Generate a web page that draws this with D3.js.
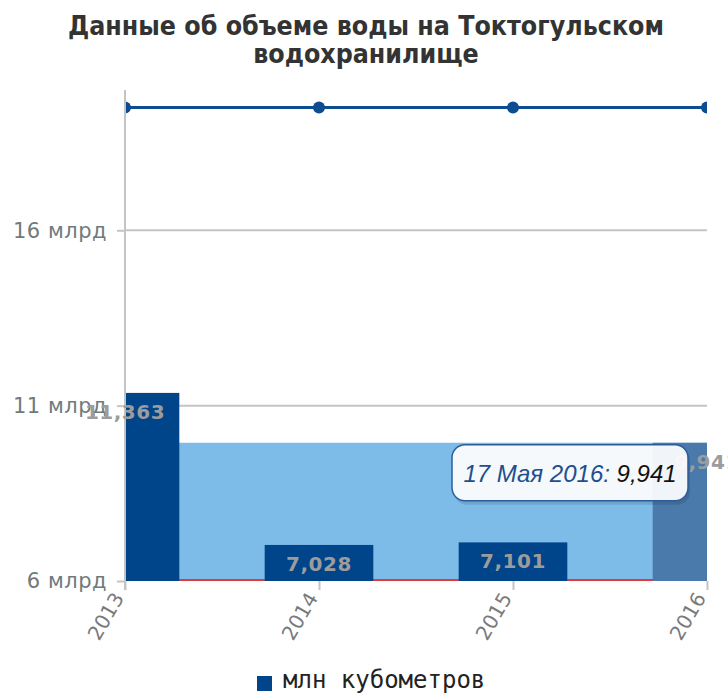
<!DOCTYPE html>
<html>
<head>
<meta charset="utf-8">
<script src="https://cdn.jsdelivr.net/npm/d3@7"></script>
<style>
  body { margin: 0; background: #fff; }
  svg { display: block; }
</style>
</head>
<body>
<div id="chart"></div>
<script>
    'use strict';

    // data (billions of cubic metres)
    var years = [2013, 2014, 2015, 2016],
        volumes = [11.363, 7.028, 7.101, 9.941],
        volumeLabels = ["11,363", "7,028", "7,101", "9,941"],
        capacity = [19.5, 19.5, 19.5, 19.5],
        hoverBand = [9.941, 9.941, 9.941, 9.941],
        minLevel = [6, 6, 6, 6],
        yTicks = [6, 11, 16],
        hoverIndex = 3,
        tooltipDate = "17 Мая 2016: ",
        tooltipValue = "9,941";

    var width = 728, height = 695,
        margin = { top: 90, right: 21, bottom: 114, left: 125 },
        plotW = width - margin.left - margin.right,
        plotH = height - margin.top - margin.bottom,
        colors = { bar: "#00448a", barHover: "#4a7aab", band: "#7dbce9", line: "#0c4c90", red: "#e23a3a", grid: "#c4c4c4", label: "#9c9c9c", axis: "#6f7b7b" };

    var x = d3.scaleLinear().domain([2013, 2016]).range([0, plotW]),
        y = d3.scaleLinear().domain([6, 20]).range([plotH, 0]),
        barW = (x(2014) - x(2013)) * 0.56;

    var svg = d3.select("#chart").append("svg")
        .attr("width", width)
        .attr("height", height);

    // title
    svg.append("text")
        .attr("x", 366).attr("y", 35)
        .attr("text-anchor", "middle")
        .style("font-family", "DejaVu Sans Condensed, DejaVu Sans")
        .style("font-weight", "bold")
        .style("font-size", "26.5px")
        .style("fill", "#333")
        .selectAll("tspan")
        .data(["Данные об объеме воды на Токтогульском", "водохранилище"])
        .enter().append("tspan")
        .attr("x", 366)
        .attr("dy", function (d, i) { return i ? 28 : 0; })
        .text(function (d) { return d; });

    var g = svg.append("g")
        .attr("transform", "translate(" + margin.left + "," + margin.top + ")");

    g.append("clipPath").attr("id", "plotClip")
        .append("rect")
        .attr("x", 0).attr("y", -10)
        .attr("width", plotW).attr("height", plotH + 10);

    // gridlines + y labels
    var yAxis = d3.axisLeft(y)
        .tickValues(yTicks)
        .tickSize(8)
        .tickPadding(10)
        .tickFormat(function (d) { return d + " млрд"; });

    var yG = g.append("g").call(yAxis);
    yG.select(".domain").remove();
    yG.selectAll("line").attr("stroke", colors.grid).attr("stroke-width", 2);
    yG.selectAll("text")
        .style("font-family", "DejaVu Sans")
        .style("font-size", "21px")
        .style("letter-spacing", "0.5px")
        .style("fill", colors.axis);

    g.append("g").selectAll("line")
        .data(yTicks.filter(function (d) { return d > 6; }))
        .enter().append("line")
        .attr("x1", 0).attr("x2", plotW)
        .attr("y1", function (d) { return y(d); })
        .attr("y2", function (d) { return y(d); })
        .attr("stroke", colors.grid)
        .attr("stroke-width", 2);

    var plot = g.append("g").attr("clip-path", "url(#plotClip)");

    // light band behind the columns
    plot.append("path")
        .datum(hoverBand)
        .attr("fill", colors.band)
        .attr("d", d3.area()
            .x(function (d, i) { return x(years[i]); })
            .y0(y(6))
            .y1(function (d) { return y(d); }));

    // red minimum line
    plot.append("path")
        .datum(minLevel)
        .attr("fill", "none")
        .attr("stroke", colors.red)
        .attr("stroke-width", 2)
        .attr("d", d3.line()
            .x(function (d, i) { return x(years[i]); })
            .y(function (d) { return y(d) - 1; }));

    // columns
    plot.selectAll(".bar")
        .data(volumes)
        .enter().append("rect")
        .attr("class", "bar")
        .attr("x", function (d, i) { return x(years[i]) - barW / 2; })
        .attr("y", function (d) { return y(d); })
        .attr("width", barW)
        .attr("height", function (d) { return y(6) - y(d); })
        .style("fill", function (d, i) { return i === hoverIndex ? colors.barHover : colors.bar; });

    // capacity line
    plot.append("path")
        .datum(capacity)
        .attr("fill", "none")
        .attr("stroke", colors.line)
        .attr("stroke-width", 3)
        .attr("d", d3.line()
            .x(function (d, i) { return x(years[i]); })
            .y(function (d) { return y(d); }));

    plot.selectAll(".dot")
        .data(capacity)
        .enter().append("circle")
        .attr("class", "dot")
        .attr("cx", function (d, i) { return x(years[i]); })
        .attr("cy", function (d) { return y(d); })
        .attr("r", 6)
        .style("fill", colors.line);

    // y axis line
    g.append("line")
        .attr("x1", 0).attr("x2", 0)
        .attr("y1", 0).attr("y2", plotH + 9)
        .attr("stroke", colors.grid)
        .attr("stroke-width", 2);

    // x axis
    var xAxis = d3.axisBottom(x)
        .tickValues(years)
        .tickSize(9)
        .tickPadding(6)
        .tickFormat(d3.format("d"));

    var xG = g.append("g")
        .attr("transform", "translate(0," + plotH + ")")
        .call(xAxis);
    xG.select(".domain").remove();
    xG.selectAll("line").attr("stroke", colors.grid).attr("stroke-width", 2);
    xG.selectAll("text")
        .style("font-family", "DejaVu Sans")
        .style("font-size", "20px")
        .style("fill", "#7a7a7a")
        .attr("text-anchor", "end")
        .attr("dy", "0.35em")
        .attr("transform", "translate(-4,8) rotate(-60)")
        .attr("x", -6).attr("y", 0);

    // data labels
    g.selectAll(".valLabel")
        .data(volumes)
        .enter().append("text")
        .attr("class", "valLabel")
        .attr("x", function (d, i) { return x(years[i]); })
        .attr("y", function (d) { return y(d) + 26; })
        .attr("text-anchor", "middle")
        .style("font-family", "DejaVu Sans")
        .style("font-weight", "bold")
        .style("font-size", "20px")
        .style("letter-spacing", "0.5px")
        .style("fill", colors.label)
        .text(function (d, i) { return volumeLabels[i]; });

    // tooltip
    var tx = x(years[hoverIndex]) - 255, ty = y(volumes[hoverIndex]) + 2;
    var tip = g.append("g").attr("transform", "translate(" + tx + "," + ty + ")");
    tip.append("rect")
        .attr("x", 2).attr("y", 3)
        .attr("width", 236).attr("height", 57)
        .attr("rx", 13)
        .style("fill", "rgba(0,0,0,0.12)");
    tip.append("rect")
        .attr("width", 236).attr("height", 56)
        .attr("rx", 13)
        .style("fill", "rgba(255,255,255,0.93)")
        .style("stroke", "#2c5d9a")
        .style("stroke-width", 1.5);
    var tt = tip.append("text")
        .attr("x", 118).attr("y", 37)
        .attr("text-anchor", "middle")
        .style("font-family", "Liberation Sans, Arial")
        .style("font-style", "italic")
        .style("font-size", "24px");
    tt.append("tspan").style("fill", "#1e4f8e").text(tooltipDate);
    tt.append("tspan").style("fill", "#111").text(tooltipValue);

    // legend
    var leg = svg.append("g").attr("transform", "translate(257,676)");
    leg.append("rect").attr("width", 15).attr("height", 15).style("fill", colors.bar);
    leg.append("text")
        .attr("x", 26).attr("y", 12)
        .style("font-family", "DejaVu Sans Mono")
        .style("font-size", "24px")
        .style("fill", "#222")
        .text("млн кубометров");
</script>
</body>
</html>
